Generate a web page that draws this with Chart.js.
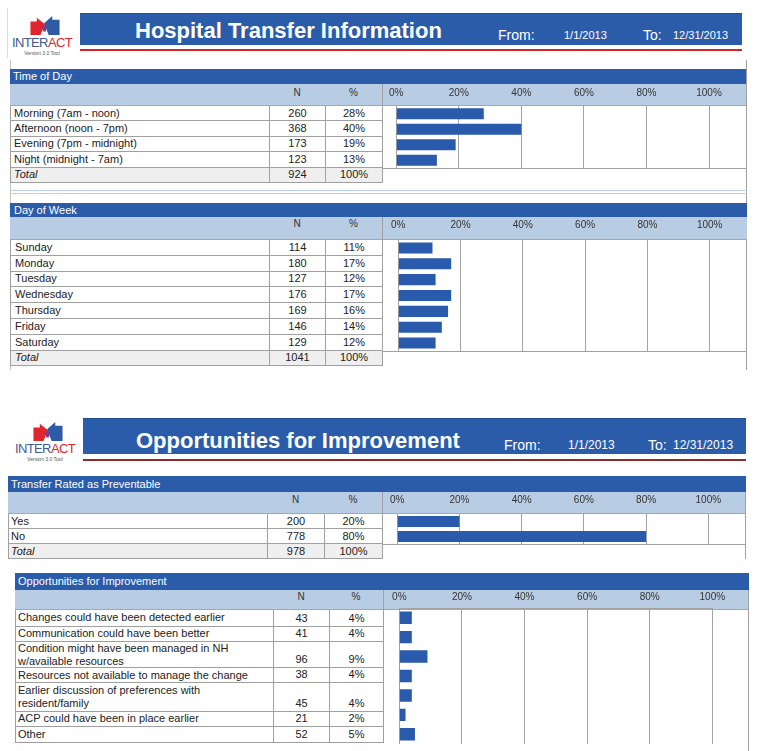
<!DOCTYPE html>
<html>
<head>
<meta charset="utf-8">
<title>Hospital Transfer Information</title>
<script src="https://cdn.jsdelivr.net/npm/chart.js@4.4.1/dist/chart.umd.min.js"></script>
<style>
  body { margin: 0; background: #fff; font-family: "Liberation Sans", Arial, sans-serif; }
  #page { position: relative; width: 762px; height: 751px; overflow: hidden; }
  #page > div { position: absolute; box-sizing: border-box; white-space: nowrap; }
  #page > svg, #page > canvas { position: absolute; }
</style>
</head>
<body>
<div id="page"></div>
<script>
// ---- data ----
const timeOfDay = ['Morning (7am - noon)', 'Afternoon (noon - 7pm)', 'Evening (7pm - midnight)', 'Night (midnight - 7am)'];
const timeOfDayN = [260, 368, 173, 123];
const timeOfDayPct = [28, 40, 19, 13];
const timeOfDayTotal = 924;

const dayOfWeek = ['Sunday', 'Monday', 'Tuesday', 'Wednesday', 'Thursday', 'Friday', 'Saturday'];
const dayOfWeekN = [114, 180, 127, 176, 169, 146, 129];
const dayOfWeekPct = [11, 17, 12, 17, 16, 14, 12];
const dayOfWeekTotal = 1041;

const preventable = ['Yes', 'No'];
const preventableN = [200, 778];
const preventablePct = [20, 80];
const preventableTotal = 978;

const improvement = [
  'Changes could have been detected earlier',
  'Communication could have been better',
  'Condition might have been managed in NH w/available resources',
  'Resources not available to manage the change',
  'Earlier discussion of preferences with resident/family',
  'ACP could have been in place earlier',
  'Other'
];
const improvementN = [43, 41, 96, 38, 45, 21, 52];
const improvementPct = [4, 4, 9, 4, 4, 2, 5];

const pctTicks = [0, 20, 40, 60, 80, 100];

// ---- styles ----
const FONT = '"Liberation Sans", Arial, sans-serif';
const BLUE = '#2b5ca9';
const HEAD = '#b8cce4';
const BAR = '#2a5aab';
const GRID = '#a3a3a3';
const LINE = '#a0a0a0';

const page = document.getElementById('page');

function box(x, y, w, h, css, text) {
  const d = document.createElement('div');
  d.style.cssText = `left:${x}px;top:${y}px;width:${w}px;height:${h}px;` + (css || '');
  if (text !== undefined) d.textContent = text;
  page.appendChild(d);
  return d;
}

function logo(x, y) {
  page.insertAdjacentHTML('beforeend',
    `<svg style="left:${x + 20}px;top:${y + 1}px" width="30" height="20" viewBox="0 0 32 22">
       <polygon points="0,6 7,6 7,2 16,9 11,21 0,21" fill="#e1252d"/>
       <polygon points="32,4 24,4 24,0 15,8 20,21 32,21" fill="#2f5aa6"/>
       <polygon points="13,10 18,10 17,17 14,17" fill="#7a3f8a"/>
     </svg>`);
  box(x, y + 21, 64, 13, 'font-size:13px;line-height:13px;letter-spacing:-0.6px;color:#3d5a93;text-align:center;')
    .innerHTML = 'INTER<span style="color:#d8262c">ACT</span>';
  box(x, y + 35, 64, 6, 'font-size:5px;line-height:6px;color:#555;text-align:center;', 'Version 3.0 Tool');
}

function reportHeader(g, title) {
  logo(g.logoX, g.logoY);
  box(g.x, g.top, g.right - g.x, g.h, `background:${BLUE};border-top:1px solid #1f4f99;`);
  box(g.x, g.lineY, g.right - g.x, 2, `background:${g.lineColor};`);
  box(g.titleX, g.titleY - 13, 340, 26, 'color:#fff;font-weight:bold;font-size:22px;line-height:26px;', title);
  box(g.fromX, g.textY - 8, 50, 16, 'color:#fff;font-size:14px;line-height:16px;', 'From:');
  box(g.d1X, g.textY - 8, 60, 16, `color:#fff;font-size:${g.dateSize}px;line-height:16px;`, '1/1/2013');
  box(g.toX, g.textY - 8, 30, 16, 'color:#fff;font-size:14px;line-height:16px;', 'To:');
  box(g.d2X, g.textY - 8, 70, 16, `color:#fff;font-size:${g.dateSize}px;line-height:16px;`, '12/31/2013');
}

function cell(g, x, w, y, h, text, extra, align) {
  return box(x, y, w, h,
    `border-bottom:1px solid ${LINE};border-left:1px solid ${LINE};font-size:11px;line-height:13px;color:#222;` +
    `display:flex;align-items:${align};` + extra, text);
}

function panel(g, title, labels, n, pct, total) {
  const w = g.right - g.x;
  box(g.x, g.top, w, g.titleH,
    `background:${BLUE};color:#fff;font-size:11px;line-height:${g.titleH}px;padding-left:${g.titlePad}px;`, title);
  const headTop = g.top + g.titleH;
  box(g.x, headTop, w, g.headH, `background:${HEAD};border-bottom:1px solid #98a9c0;`);
  box(g.colN, g.headTextY - 7, g.colP - g.colN, 14, 'font-size:10px;line-height:14px;color:#333;text-align:center;', 'N');
  box(g.colP, g.headTextY - 7, g.colC - g.colP, 14, 'font-size:10px;line-height:14px;color:#333;text-align:center;', '%');

  let y = headTop + g.headH;
  labels.forEach((lab, i) => {
    const h = g.rows[i];
    cell(g, g.x, g.colN - g.x, y, h, lab,
      `padding-left:${g.labPad}px;padding-right:${g.labRight || 4}px;white-space:normal;`, 'center');
    cell(g, g.colN, g.colP - g.colN, y, h, String(n[i]), `justify-content:center;padding-bottom:${g.valLift || 0}px;`, g.valAlign || 'center');
    cell(g, g.colP, g.colC - g.colP, y, h, pct[i] + '%', `justify-content:center;padding-bottom:${g.valLift || 0}px;`, g.valAlign || 'center');
    y += h;
  });
  const plotBottom = y;
  if (total !== undefined) {
    cell(g, g.x, g.colN - g.x, y, g.totalH, 'Total', `background:#efefef;font-style:italic;padding-left:${g.labPad}px;`, 'center');
    cell(g, g.colN, g.colP - g.colN, y, g.totalH, String(total), 'background:#efefef;justify-content:center;', 'center');
    cell(g, g.colP, g.colC - g.colP, y, g.totalH, '100%', 'background:#efefef;justify-content:center;', 'center');
    box(g.colC, y, g.right - g.colC, 1, `background:${LINE};`);
    y += g.totalH;
  }
  box(g.colC, headTop, 1, y - headTop, `background:${LINE};`);

  const c = document.createElement('canvas');
  const top = g.canvasTop || headTop;
  c.width = g.right - g.colC;
  c.height = Math.round((g.plotBottom || plotBottom) - top);
  c.style.left = g.colC + 'px';
  c.style.top = top + 'px';
  page.appendChild(c);

  new Chart(c, {
    type: 'bar',
    data: {
      labels: labels,
      datasets: [{ data: pct, backgroundColor: BAR, barPercentage: g.barPct, categoryPercentage: 1 }]
    },
    options: {
      indexAxis: 'y',
      responsive: false,
      animation: false,
      layout: { padding: { left: g.x0 - g.colC, right: g.right - g.x100, top: 0, bottom: 0 } },
      plugins: { legend: { display: false }, tooltip: { enabled: false } },
      scales: {
        x: {
          position: 'top',
          min: 0,
          max: 100,
          afterBuildTicks: s => { s.ticks = pctTicks.map(v => ({ value: v })); },
          afterFit: s => { s.height = g.axisH; },
          ticks: { callback: v => v + '%', font: { size: 10, family: FONT }, color: '#333', padding: g.tickPad, maxRotation: 0 },
          grid: { color: GRID, drawTicks: false },
          border: { display: !!g.topBorder, color: GRID }
        },
        y: { display: false }
      }
    }
  });
}

// ---- page 1 ----
box(10, 60, 1, 310, 'background:#c4c4c4;');
box(746, 60, 1, 310, `background:${LINE};`);
box(7, 8, 1, 50, 'background:#dcdcdc;');
reportHeader({ logoX: 10, logoY: 15, x: 80, right: 742, top: 13, h: 32, lineY: 49, lineColor: '#d3242b',
  titleX: 135, titleY: 31, fromX: 498, d1X: 564, toX: 643, d2X: 673, textY: 35, dateSize: 11 },
  'Hospital Transfer Information');

panel({ x: 10, right: 746, colN: 269, colP: 325, colC: 382, top: 69, titleH: 15, titlePad: 3, headH: 22, axisH: 22,
  headTextY: 93, rows: [15.4, 15.4, 15.4, 15.4], totalH: 15.5, labPad: 3, x0: 396, x100: 709, tickPad: 7, barPct: 0.71 },
  'Time of Day', timeOfDay, timeOfDayN, timeOfDayPct, timeOfDayTotal);

box(10, 190, 737, 4, 'border-top:1px solid #bcd0ea;border-bottom:1px solid #bcd0ea;');

panel({ x: 10, right: 747, colN: 269, colP: 325, colC: 382, top: 203, titleH: 14, titlePad: 4, headH: 23, axisH: 23,
  headTextY: 223.5, rows: [15.8, 15.8, 15.8, 15.8, 15.8, 15.8, 15.8], totalH: 15.4, labPad: 4, x0: 396.7, x100: 709.7, tickPad: 9, barPct: 0.7 },
  'Day of Week', dayOfWeek, dayOfWeekN, dayOfWeekPct, dayOfWeekTotal);

// ---- page 2 ----
reportHeader({ logoX: 13, logoY: 421, x: 83, right: 746, top: 418, h: 36, lineY: 459, lineColor: '#8e2b2b',
  titleX: 136, titleY: 441, fromX: 504, d1X: 568, toX: 648, d2X: 673, textY: 445, dateSize: 12 },
  'Opportunities for Improvement');

panel({ x: 8, right: 746, colN: 267, colP: 324, colC: 382, top: 476, titleH: 16, titlePad: 3, headH: 22, axisH: 22,
  headTextY: 500, rows: [15, 15], totalH: 15, labPad: 2, x0: 395.7, x100: 708.3, tickPad: 8, barPct: 0.72 },
  'Transfer Rated as Preventable', preventable, preventableN, preventablePct, preventableTotal);
box(745, 492, 1, 67, `background:${LINE};`);

panel({ x: 15, right: 749, colN: 273, colP: 329, colC: 383, top: 573, titleH: 17, titlePad: 3, headH: 20, axisH: 18,
  canvasTop: 590, plotBottom: 744, headTextY: 597, rows: [16.7, 15.6, 26, 15, 28.4, 15, 16.6], labPad: 2, labRight: 11,
  valAlign: 'flex-end', valLift: 1, x0: 399.3, x100: 712.3, tickPad: 5, barPct: 0.64, topBorder: true },
  'Opportunities for Improvement', improvement, improvementN, improvementPct);
box(748, 590, 1, 161, `background:${LINE};`);
</script>
</body>
</html>
